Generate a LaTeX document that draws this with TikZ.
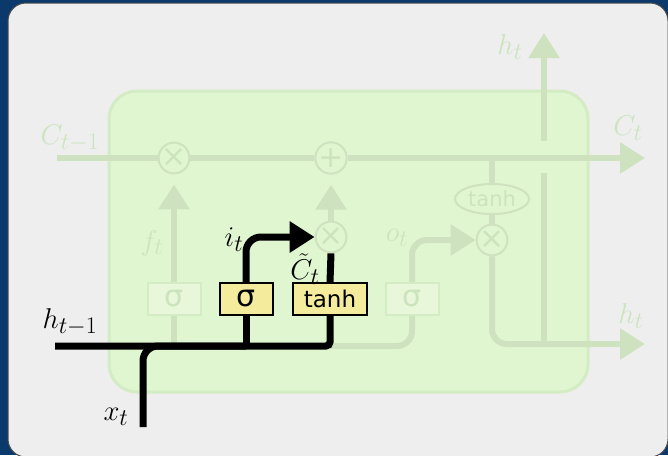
\documentclass[tikz,border=0pt]{standalone}
\usepackage{fontspec}
\newfontfamily\boxfont{DejaVu Sans}
\usetikzlibrary{arrows.meta,shapes.geometric}

\definecolor{bgblue}{RGB}{11,57,107}
\definecolor{panelgray}{RGB}{238,238,238}
\definecolor{cellgreen}{RGB}{224,246,208}
\definecolor{cellborder}{RGB}{211,236,196}
\definecolor{fadeline}{RGB}{206,226,192}
\definecolor{fadetext}{RGB}{204,228,190}
\definecolor{fadebox}{RGB}{232,246,218}
\definecolor{gateyellow}{RGB}{244,236,156}

\begin{document}
\begin{tikzpicture}[x=1pt, y=-1pt]
        \tikzstyle{gate}=[draw=black, line width=2pt, fill=gateyellow, rectangle, minimum width=53pt, minimum height=32pt, inner sep=0pt, font=\boxfont\fontsize{30}{30}\selectfont];
        \tikzstyle{fgate}=[gate, draw=cellborder, fill=fadebox, text=fadetext];
        \tikzstyle{fop}=[draw=fadeline, line width=2pt, fill=cellgreen, circle, minimum size=30pt, inner sep=0pt, text=fadetext, font=\boxfont\fontsize{30}{30}\selectfont];
        \tikzstyle{fell}=[draw=fadeline, line width=2pt, fill=cellgreen, ellipse, minimum width=74pt, minimum height=30pt, inner sep=0pt, text=fadetext, font=\boxfont\fontsize{21}{21}\selectfont];
        \tikzstyle{faint}=[draw=fadeline, line width=6pt];
        \tikzstyle{bold}=[draw=black, line width=7pt];
        \tikzstyle{bigarrow}=[-{Triangle[length=25pt, width=30pt]}];
        \tikzstyle{lbl}=[inner sep=0pt, scale=1.15, font=\fontsize{24.88}{28}\selectfont];

        \useasboundingbox (0,0) rectangle (668,455);
        \fill[bgblue] (0,0) rectangle (668,455);
        \filldraw[fill=panelgray, draw=gray!60!black, line width=1pt, rounded corners=18pt] (8,3) rectangle (668,457);
        \filldraw[fill=cellgreen, draw=cellborder, line width=3pt, rounded corners=28pt] (109,91) rectangle (588,392);

        \coordinate (cin) at (57,158);
        \coordinate (cout) at (645,158);
        \coordinate (hin) at (55,346);
        \coordinate (xin) at (143,427);
        \coordinate (hout) at (645,344);
        \coordinate (htop) at (544,33);
        \coordinate (gapbot) at (544,173);
        \coordinate (gaptop) at (544,141);

        \node[fgate] (sigf) at (174,299) {σ};
        \node[gate] (sigi) at (246,299) {σ};
        \node[gate, minimum width=74pt, font=\boxfont\fontsize{23}{23}\selectfont] (tanhc) at (330,299) {tanh};
        \node[fgate] (sigo) at (412,299) {σ};
        \node[fop] (mulf) at (174,158) {×};
        \node[fop] (addc) at (331,158) {+};
        \node[fop] (muli) at (331,237) {×};
        \node[fop] (mulo) at (492,240) {×};
        \node[fell] (tanho) at (492,199) {tanh};

        % cell state
        \draw[faint] (cin) -- (mulf.west);
        \draw[faint] (mulf.east) -- (addc.west);
        \draw[faint, bigarrow] (addc.east) -- (cout);
        \draw[faint] (tanho.north |- cout) -- (tanho.north);
        \draw[faint] (tanho.south) -- (mulo.north);

        % faded gates
        \draw[faint, bigarrow, shorten >=10pt] (sigf.north) -- (mulf.south);
        \draw[faint, bigarrow, shorten >=10pt] (muli.north) -- (addc.south);
        \draw[faint] (sigf.south) -- (sigf.south |- hin);
        \draw[faint, rounded corners=15pt] (tanhc.south |- hin) -- (sigo.south |- hin) -- (sigo.south);
        \draw[faint, rounded corners=15pt, bigarrow] (sigo.north) -- (sigo.north |- mulo) -- (mulo.west);
        \draw[faint, rounded corners=15pt, bigarrow] (mulo.south) -- (mulo.south |- hout) -- (hout);
        \draw[faint] (htop |- hout) -- (gapbot);
        \draw[faint, bigarrow] (gaptop) -- (htop);

        % input gate
        \draw[bold, rounded corners=4pt] (hin) -- (tanhc.south |- hin) -- (tanhc.south);
        \draw[bold, rounded corners=15pt] (xin) -- (xin |- hin) -- (sigi.south |- hin);
        \draw[bold] (sigi.south) -- (sigi.south |- hin);
        \draw[bold, rounded corners=15pt, bigarrow] (sigi.north) -- (sigi.north |- muli) -- (muli.west);
        \draw[bold] (tanhc.north) -- (muli.south);

        % labels
        \node[lbl, text=fadetext] (lcprev) at (70,138) {$C_{t-1}$};
        \node[lbl, text=fadetext] (lcnext) at (628,128) {$C_t$};
        \node[lbl, text=fadetext] (lhtop) at (510,47) {$h_t$};
        \node[lbl, text=fadetext] (lhout) at (631,316) {$h_t$};
        \node[lbl, text=fadetext] (lf) at (152,243) {$f_t$};
        \node[lbl, text=fadetext] (lo) at (397,238) {$o_t$};
        \node[lbl] (li) at (234,240) {$i_t$};
        \node[lbl] (lc) at (305,269) {$\tilde{C}_t$};
        \node[lbl] (lhprev) at (70,322) {$h_{t-1}$};
        \node[lbl] (lx) at (116,417) {$x_t$};
    \end{tikzpicture}
\end{document}
